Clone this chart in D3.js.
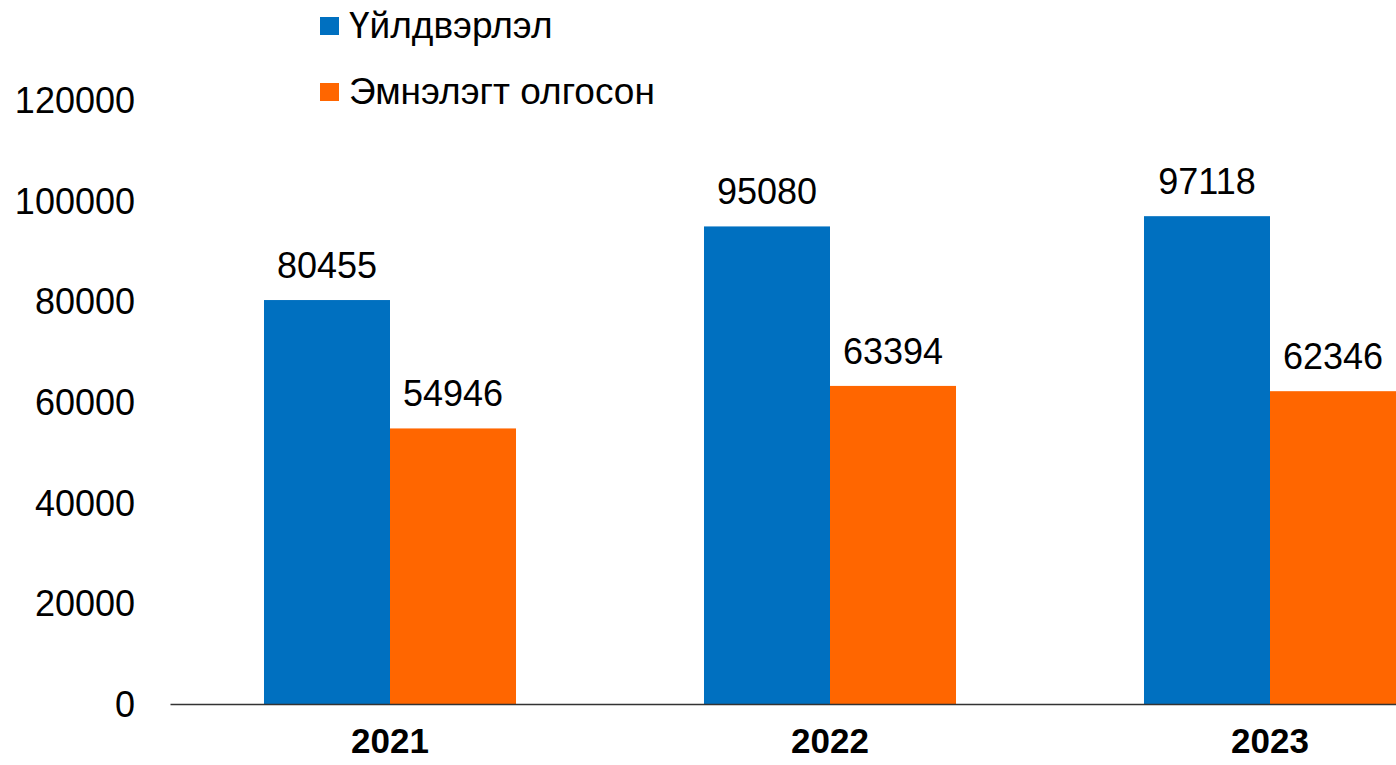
<!DOCTYPE html>
<html>
<head>
<meta charset="utf-8">
<script src="https://cdn.jsdelivr.net/npm/d3@7"></script>
<style>
  body { margin: 0; background: #fff; }
  text { font-family: "Liberation Sans", Arial, sans-serif; }
</style>
</head>
<body>
<script>
// two series per year, grouped bars

const years = ["2021", "2022", "2023"];
const seriesNames = ["Үйлдвэрлэл", "Эмнэлэгт олгосон"];
const production = [80455, 95080, 97118];
const hospital = [54946, 63394, 62346];
const yTicks = [0, 20000, 40000, 60000, 80000, 100000, 120000];
const colors = ["#0070C0", "#FF6600"];

const outerWidth = 1396;
const outerHeight = 765;

const svg = d3.select("body").append("svg")
    .attr("width", outerWidth)
    .attr("height", outerHeight);

const xScale = d3.scaleBand()
    .domain(years)
    .range([170, 1490])
    .padding(0);

const subScale = d3.scaleBand()
    .domain(seriesNames)
    .range([0, xScale.bandwidth()])
    .paddingInner(0)
    .paddingOuter(0.746);

const yScale = d3.scaleLinear()
    .domain([0, 120000])
    .range([705, 101]);

// y labels only, no axis line
const yAxis = svg.append("g")
    .attr("transform", "translate(170,0)")
    .call(d3.axisLeft(yScale).tickValues(yTicks).tickSize(0).tickPadding(35).tickFormat(d => d));
yAxis.select(".domain").remove();
yAxis.selectAll("text")
    .style("font-size", "36px")
    .style("font-family", "Liberation Sans, Arial, sans-serif")
    .attr("fill", "#000");

const rows = years.map((y, i) => ({year: y, values: [production[i], hospital[i]]}));

const groups = svg.selectAll(".year-group")
    .data(rows)
    .join("g")
    .attr("class", "year-group")
    .attr("transform", d => "translate(" + xScale(d.year) + ",0)");

groups.selectAll("rect")
    .data(d => d.values.map((v, j) => ({name: seriesNames[j], value: v, color: colors[j]})))
    .join("rect")
    .attr("x", d => subScale(d.name))
    .attr("width", subScale.bandwidth())
    .attr("y", d => yScale(d.value))
    .attr("height", d => yScale(0) - yScale(d.value))
    .attr("fill", d => d.color);

groups.selectAll(".val-label")
    .data(d => d.values.map((v, j) => ({name: seriesNames[j], value: v})))
    .join("text")
    .attr("class", "val-label")
    .attr("x", d => subScale(d.name) + subScale.bandwidth() / 2)
    .attr("y", d => yScale(d.value) - 22)
    .attr("text-anchor", "middle")
    .style("font-size", "36px")
    .attr("fill", "#000")
    .text(d => d.value);

// x axis line + bold year labels
const xAxis = svg.append("g")
    .attr("transform", "translate(0,704)")
    .call(d3.axisBottom(xScale).tickSize(0).tickPadding(24).tickSizeOuter(0));
xAxis.select(".domain")
    .attr("stroke", "#333")
    .attr("stroke-width", 1.5);
xAxis.selectAll("text")
    .style("font-size", "35px")
    .style("font-weight", "bold")
    .style("font-family", "Liberation Sans, Arial, sans-serif")
    .attr("fill", "#000");

// legend
const legend = svg.selectAll(".legend-item")
    .data(seriesNames)
    .join("g")
    .attr("class", "legend-item")
    .attr("transform", (d, i) => "translate(320," + (17 + i * 66) + ")");

legend.append("rect")
    .attr("width", 19)
    .attr("height", 18)
    .attr("fill", (d, i) => colors[i]);

legend.append("text")
    .attr("x", 29)
    .attr("y", 21)
    .style("font-size", "37px")
    .attr("fill", "#000")
    .text(d => d);
</script>
</body>
</html>
